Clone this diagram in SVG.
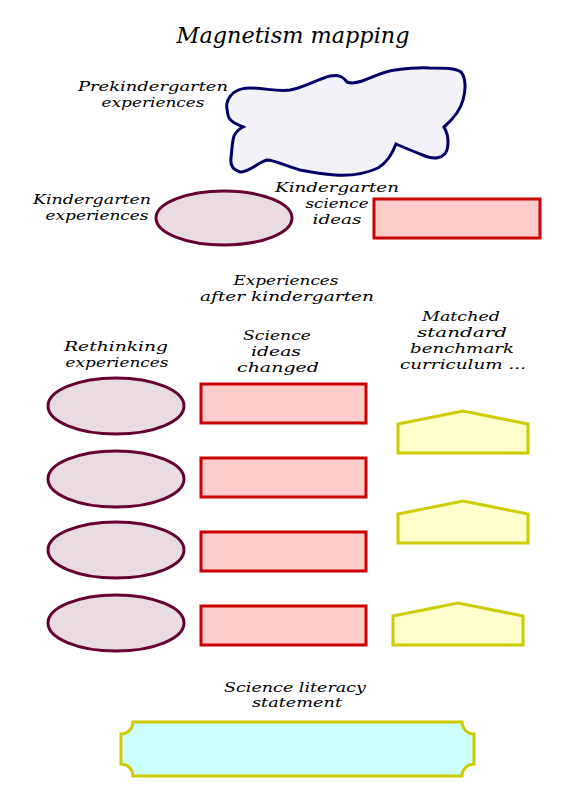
<svg xmlns="http://www.w3.org/2000/svg" width="576" height="792" viewBox="0 0 576 792">
<style>
text{font-family:"DejaVu Serif","Liberation Serif",serif;font-style:italic;font-size:13px;fill:#000;text-anchor:middle}
.title{font-size:22px}
.oval{fill:#e8dce2;stroke:#660033;stroke-width:3}
.box{fill:#ffcccc;stroke:#cc0000;stroke-width:3}
.pent{fill:#ffffcc;stroke:#cccc00;stroke-width:3}
.cloud{fill:#f2f2f8;stroke:#000066;stroke-width:3}
.plaque{fill:#ccffff;stroke:#cccc00;stroke-width:3}
</style>
<rect width="576" height="792" fill="#fff"/>
<g id="title"><text class="title" x="293" y="43" textLength="233" lengthAdjust="spacingAndGlyphs">Magnetism mapping</text></g>
<g id="prek">
<text x="153" y="91" textLength="150" lengthAdjust="spacingAndGlyphs">Prekindergarten</text>
<text x="153" y="107" textLength="103" lengthAdjust="spacingAndGlyphs">experiences</text>
<path class="cloud" d="M227 103 C230 92 240 88 250 88 C265 88 278 92 290 90 C305 87 318 79 330 76 C340 74 344 78 347 82 C352 84 356 83 362 81 C375 76 385 71 395 70 C410 68 420 67 430 68 C445 68 455 68 461 72 C466 78 466 90 463 100 C460 112 452 120 444 127 C448 134 449 142 447 150 C444 158 435 160 425 156 C415 152 405 148 396 144 C393 152 388 162 378 168 C365 174 350 176 335 175 C320 174 310 172 300 170 C285 166 275 160 267 160 C258 162 250 172 240 172 C233 170 230 165 231 158 C232 150 232 142 234 136 C237 130 241 128 243 127 C236 124 229 121 228 115 C227 110 226 106 227 103 Z"/>
</g>
<g id="kexp">
<text x="92" y="204" textLength="118" lengthAdjust="spacingAndGlyphs">Kindergarten</text>
<text x="97" y="220" textLength="103" lengthAdjust="spacingAndGlyphs">experiences</text>
<ellipse class="oval" cx="224" cy="218" rx="68" ry="27"/>
</g>
<g id="kideas">
<text x="337" y="192" textLength="124" lengthAdjust="spacingAndGlyphs">Kindergarten</text>
<text x="337" y="208" textLength="63" lengthAdjust="spacingAndGlyphs">science</text>
<text x="337" y="224" textLength="49" lengthAdjust="spacingAndGlyphs">ideas</text>
<rect class="box" x="374" y="199" width="166" height="39"/>
</g>
<g id="after">
<text x="286" y="285" textLength="105" lengthAdjust="spacingAndGlyphs">Experiences</text>
<text x="287" y="301" textLength="174" lengthAdjust="spacingAndGlyphs">after kindergarten</text>
</g>
<g id="rethink">
<text x="116" y="351" textLength="104" lengthAdjust="spacingAndGlyphs">Rethinking</text>
<text x="117" y="367" textLength="103" lengthAdjust="spacingAndGlyphs">experiences</text>
<ellipse class="oval" cx="116" cy="406" rx="68" ry="28"/>
<ellipse class="oval" cx="116" cy="479" rx="68" ry="28"/>
<ellipse class="oval" cx="116" cy="550" rx="68" ry="28"/>
<ellipse class="oval" cx="116" cy="623" rx="68" ry="28"/>
</g>
<g id="changed">
<text x="277" y="340" textLength="68" lengthAdjust="spacingAndGlyphs">Science</text>
<text x="276" y="356" textLength="50" lengthAdjust="spacingAndGlyphs">ideas</text>
<text x="278" y="372" textLength="82" lengthAdjust="spacingAndGlyphs">changed</text>
<rect class="box" x="201" y="384" width="165" height="39"/>
<rect class="box" x="201" y="458" width="165" height="39"/>
<rect class="box" x="201" y="532" width="165" height="39"/>
<rect class="box" x="201" y="606" width="165" height="39"/>
</g>
<g id="matched">
<text x="461" y="321" textLength="78" lengthAdjust="spacingAndGlyphs">Matched</text>
<text x="462" y="337" textLength="90" lengthAdjust="spacingAndGlyphs">standard</text>
<text x="462" y="353" textLength="104" lengthAdjust="spacingAndGlyphs">benchmark</text>
<text x="463" y="369" textLength="126" lengthAdjust="spacingAndGlyphs">curriculum ...</text>
<path class="pent" d="M398 424 L463 411 L528 424 V453 H398 Z"/>
<path class="pent" d="M398 514 L463 501 L528 514 V543 H398 Z"/>
<path class="pent" d="M393 616 L458 603 L523 616 V645 H393 Z"/>
</g>
<g id="literacy">
<text x="295" y="692" textLength="142" lengthAdjust="spacingAndGlyphs">Science literacy</text>
<text x="297" y="707" textLength="90" lengthAdjust="spacingAndGlyphs">statement</text>
<path class="plaque" d="M133 722 H462 A12 12 0 0 0 474 734 V764 A12 12 0 0 0 462 776 H133 A12 12 0 0 0 121 764 V734 A12 12 0 0 0 133 722 Z"/>
</g>
<g id="connectors"></g>
</svg>
